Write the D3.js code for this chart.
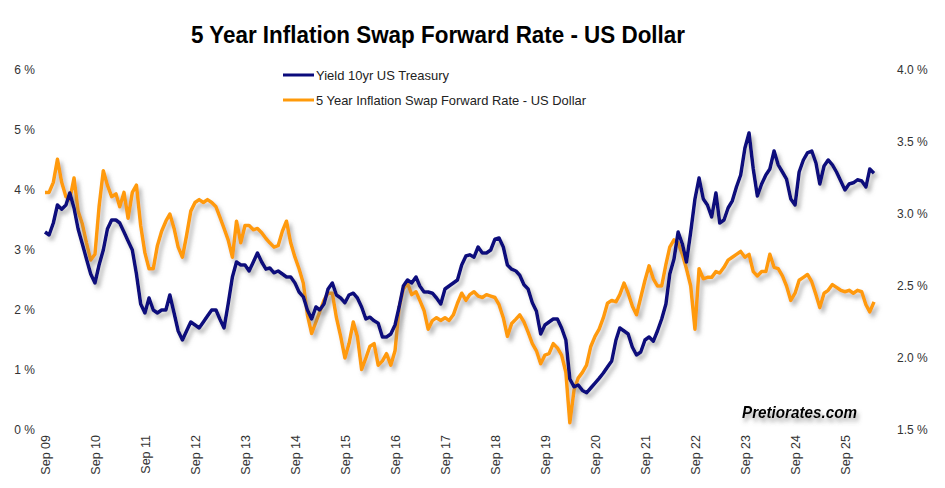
<!DOCTYPE html>
<html><head><meta charset="utf-8">
<script src="https://cdn.jsdelivr.net/npm/d3@7"></script>
<style>body{margin:0;background:#fff}svg{display:block}</style>
</head><body><svg id="c" width="945" height="488"></svg>
<script>
// Monthly observations, first month = Sep 2009
const startYear = 2009, startMonthIndex = 8;
const treasury10y = [
3.3,3.25,3.45,3.75,3.68,3.75,3.95,3.7,3.35,3.1,2.85,2.6,
2.45,2.75,3.0,3.35,3.5,3.5,3.45,3.3,3.15,3.0,2.6,2.1,
1.95,2.2,2.0,1.95,2.0,2.0,2.25,1.95,1.65,1.5,1.65,1.8,
1.75,1.7,1.8,1.9,2.0,2.0,1.85,1.7,2.1,2.55,2.8,2.75,
2.75,2.65,2.8,2.95,2.8,2.68,2.7,2.62,2.65,2.6,2.55,2.55,
2.45,2.3,2.22,2.0,1.85,2.05,2.0,2.1,2.35,2.45,2.25,2.2,
2.12,2.25,2.28,2.2,2.05,1.85,1.88,1.82,1.78,1.55,1.55,1.6,
1.75,2.05,2.4,2.5,2.45,2.55,2.4,2.3,2.3,2.28,2.2,2.1,
2.35,2.4,2.45,2.5,2.75,2.9,2.92,2.88,3.05,2.95,2.95,3.0,
3.18,3.2,3.05,2.75,2.68,2.65,2.58,2.42,2.35,2.12,1.98,1.6,
1.75,1.8,1.85,1.85,1.7,1.5,0.85,0.72,0.75,0.66,0.62,0.7,
0.78,0.86,0.95,1.05,1.15,1.5,1.7,1.65,1.6,1.38,1.25,1.3,
1.5,1.55,1.48,1.65,1.85,2.1,2.6,2.85,3.3,3.1,2.8,3.3,
3.85,4.2,3.85,3.75,3.55,3.95,3.45,3.5,3.7,3.82,4.05,4.25,
4.7,4.95,4.35,3.9,4.1,4.25,4.35,4.65,4.42,4.3,4.18,3.85,
3.75,4.3,4.5,4.62,4.65,4.45,4.1,4.4,4.5,4.42,4.3,4.15,
4.0,4.1,4.12,4.17,4.15,4.05,4.35,4.28
];
const inflationSwap5y5y = [
3.15,3.15,3.22,3.38,3.22,3.12,3.1,3.25,3.02,2.93,2.8,2.68,
2.72,3.05,3.3,3.2,3.12,3.14,3.05,3.15,2.97,3.15,3.2,2.92,
2.73,2.62,2.62,2.78,2.88,2.95,3.0,2.9,2.77,2.7,2.85,3.02,
3.08,3.1,3.08,3.1,3.08,3.05,2.98,2.9,2.82,2.7,2.95,2.8,
2.92,2.92,2.89,2.9,2.87,2.83,2.8,2.77,2.78,2.88,2.95,2.8,
2.7,2.62,2.52,2.3,2.17,2.25,2.32,2.4,2.45,2.45,2.28,2.15,
2.0,2.1,2.25,2.15,1.92,2.0,2.08,2.1,1.95,1.98,2.03,1.95,
2.05,2.35,2.48,2.52,2.44,2.46,2.4,2.33,2.2,2.26,2.28,2.26,
2.28,2.26,2.3,2.38,2.45,2.4,2.44,2.46,2.43,2.42,2.44,2.43,
2.42,2.37,2.28,2.15,2.24,2.27,2.3,2.25,2.18,2.1,2.05,1.96,
2.02,2.03,2.1,2.07,2.02,1.9,1.55,1.78,1.86,1.9,1.95,2.08,
2.15,2.2,2.28,2.38,2.4,2.39,2.44,2.52,2.45,2.36,2.3,2.42,
2.54,2.64,2.55,2.5,2.5,2.65,2.77,2.82,2.8,2.72,2.62,2.5,
2.2,2.62,2.55,2.56,2.56,2.6,2.59,2.63,2.68,2.7,2.72,2.74,
2.7,2.72,2.6,2.57,2.6,2.6,2.72,2.63,2.62,2.57,2.5,2.4,
2.45,2.54,2.56,2.58,2.53,2.44,2.35,2.45,2.47,2.51,2.49,2.47,
2.46,2.47,2.45,2.47,2.46,2.37,2.32,2.39
];
const seriesNames = ["Yield 10yr US Treasury", "5 Year Inflation Swap Forward Rate - US Dollar"];
const seriesColors = ["#0a0a7c", "#ff9a0a"];
const xTickLabels = ["Sep 09","Sep 10","Sep 11","Sep 12","Sep 13","Sep 14","Sep 15","Sep 16","Sep 17","Sep 18","Sep 19","Sep 20","Sep 21","Sep 22","Sep 23","Sep 24","Sep 25"];
const leftTicks = [0,1,2,3,4,5,6];
const rightTicks = [1.5,2.0,2.5,3.0,3.5,4.0];
const titleText = "5 Year Inflation Swap Forward Rate - US Dollar";
const watermark = "Pretiorates.com";

const svg = d3.select("#c");
const font = "'Liberation Sans', Arial, sans-serif";
const narrow = "'Liberation Sans Narrow', 'Arial Narrow', 'Liberation Sans', Arial, sans-serif";

const defs = svg.append("defs");
const f = defs.append("filter").attr("id","sh").attr("x","-5%").attr("y","-5%").attr("width","115%").attr("height","130%");
f.append("feDropShadow").attr("dx",3).attr("dy",4).attr("stdDeviation",2).attr("flood-color","#777").attr("flood-opacity",0.55);
const f2 = defs.append("filter").attr("id","sh2").attr("x","-10%").attr("y","-30%").attr("width","130%").attr("height","190%");
f2.append("feDropShadow").attr("dx",2).attr("dy",4).attr("stdDeviation",2).attr("flood-color","#666").attr("flood-opacity",0.6);

const x = d3.scaleTime().domain([new Date(2009,8,1), new Date(2025,8,1)]).range([45,845]);
const yL = d3.scaleLinear().domain([0,6]).range([430,70]);
const yR = d3.scaleLinear().domain([1.5,4.0]).range([430,70]);

const dates = treasury10y.map((_,i)=>new Date(startYear, startMonthIndex+i, 1));

// Title
svg.append("text").attr("x",438).attr("y",43).attr("text-anchor","middle")
  .attr("font-family",narrow).attr("font-weight","bold").attr("font-size",23)
  .attr("textLength",494).attr("lengthAdjust","spacingAndGlyphs").attr("fill","#000").text(titleText);

// Left axis
const gL = svg.append("g").attr("transform","translate(35,0)")
  .call(d3.axisLeft(yL).tickValues(leftTicks).tickFormat(d=>d+" %").tickSize(0).tickPadding(0));
gL.select(".domain").remove();
gL.selectAll("text").attr("font-family",font).attr("font-size",12).attr("fill","#333");

// Right axis
const gR = svg.append("g").attr("transform","translate(897,0)")
  .call(d3.axisRight(yR).tickValues(rightTicks).tickFormat(d=>d.toFixed(1)+" %").tickSize(0).tickPadding(0));
gR.select(".domain").remove();
gR.selectAll("text").attr("font-family",font).attr("font-size",12).attr("fill","#333");

// X axis
const sepDates = xTickLabels.map((_,i)=>new Date(2009+i,8,1));
const gX = svg.append("g").attr("transform","translate(0,432)")
  .call(d3.axisBottom(x).tickValues(sepDates).tickFormat((d,i)=>xTickLabels[i]).tickSize(0));
gX.select(".domain").remove();
gX.selectAll("text").attr("font-family",font).attr("font-size",12.5).attr("fill","#333")
  .attr("transform","rotate(-90)").attr("text-anchor","end").attr("x",-3).attr("y",0).attr("dy","0.35em");

// Lines (orange first, navy on top)
const lineR = d3.line().x((d,i)=>x(dates[i])).y(d=>yR(d));
const lineL = d3.line().x((d,i)=>x(dates[i])).y(d=>yL(d));
svg.append("path").datum(inflationSwap5y5y).attr("d",lineR).attr("fill","none")
  .attr("stroke",seriesColors[1]).attr("stroke-width",3.5).attr("stroke-linejoin","round").attr("filter","url(#sh)");
svg.append("path").datum(treasury10y).attr("d",lineL).attr("fill","none")
  .attr("stroke",seriesColors[0]).attr("stroke-width",3.5).attr("stroke-linejoin","round").attr("filter","url(#sh)");

// Legend
const legendY = [75, 100];
const legendW = [133, 270];
seriesNames.forEach((n,i)=>{
  svg.append("line").attr("x1",283).attr("x2",314).attr("y1",legendY[i]).attr("y2",legendY[i])
    .attr("stroke",seriesColors[i]).attr("stroke-width",3);
  svg.append("text").attr("x",316).attr("y",legendY[i]+4.5).attr("font-family",narrow).attr("font-size",13)
    .attr("textLength",legendW[i]).attr("lengthAdjust","spacingAndGlyphs").attr("fill","#222").text(n);
});

// Watermark
svg.append("text").attr("x",742).attr("y",418).attr("font-family",font).attr("font-weight","bold")
  .attr("font-style","italic").attr("font-size",17).attr("textLength",115).attr("lengthAdjust","spacingAndGlyphs")
  .attr("fill","#000").attr("filter","url(#sh2)").text(watermark);
</script></body></html>
